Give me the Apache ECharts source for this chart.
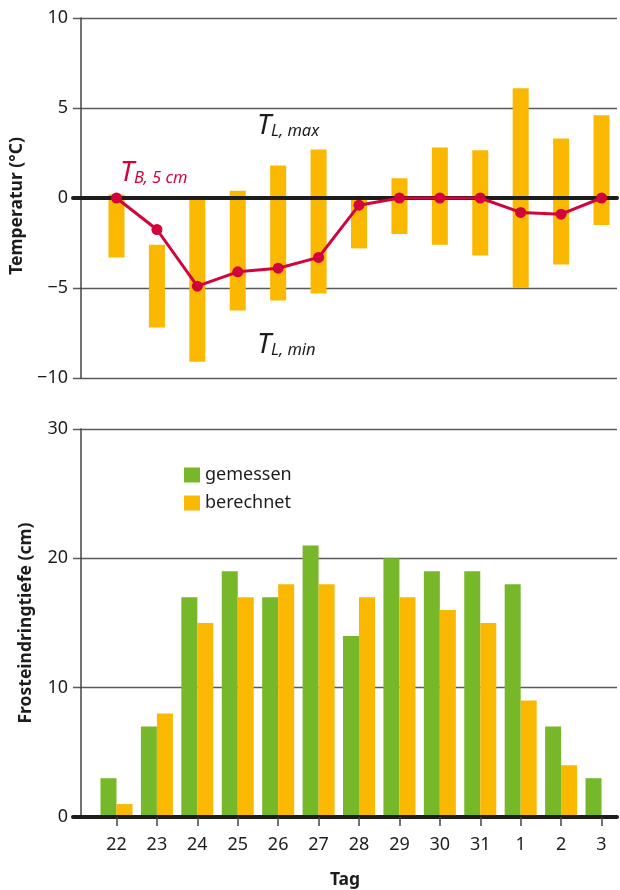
<!DOCTYPE html>
<html>
<head>
<meta charset="utf-8">
<script src="https://cdn.jsdelivr.net/npm/echarts@6/dist/echarts.min.js"></script>
<style>
  html, body { margin: 0; padding: 0; background: #fff; }
  #chart { width: 620px; height: 890px; }
</style>
</head>
<body>
<div id="chart"></div>
<script>
// Day labels along the bottom axis
const days = ['22', '23', '24', '25', '26', '27', '28', '29', '30', '31', '1', '2', '3'];

// Air temperature range per day (°C)
const airMin = [-3.3, -7.2, -9.1, -6.25, -5.7, -5.3, -2.8, -2.0, -2.6, -3.2, -5.0, -3.7, -1.5];
const airMax = [0.2, -2.6, 0.0, 0.4, 1.8, 2.7, 0.0, 1.1, 2.8, 2.65, 6.1, 3.3, 4.6];

// Soil temperature at 5 cm depth (°C)
const soil5cm = [0.0, -1.75, -4.9, -4.1, -3.9, -3.3, -0.4, 0.0, 0.0, 0.0, -0.8, -0.9, 0.0];

// Frost penetration depth (cm)
const measured = [3, 7, 17, 19, 17, 21, 14, 20, 19, 19, 18, 7, 3];
const computed = [1, 8, 15, 17, 18, 18, 17, 17, 16, 15, 9, 4, null];

const tempTicks = [-10, -5, 0, 5, 10];
const depthTicks = [0, 10, 20, 30];

const YELLOW = '#FBB800';
const GREEN = '#77B82A';
const RED = '#D2043C';
const INK = '#1d1d1b';
const GRID = '#5a5a5a';
const FONT = 'Noto Sans';

const idx = days.map((_, i) => i);
const xMin = -1.076, xMax = 12.383;

const chart = echarts.init(document.getElementById('chart'), null, { renderer: 'canvas' });

const minus = v => String(v).replace('-', '\u2212');

const yAxisBase = (min, max, interval, gridIndex, name, namePad) => ({
  type: 'value', gridIndex, min, max, interval,
  offset: -8,
  name, nameLocation: 'middle', nameGap: 46, nameRotate: 90,
  nameTextStyle: { fontFamily: FONT, fontSize: 17.5, fontWeight: 'bold', color: INK, padding: namePad },
  axisLine: { show: true, onZero: false, lineStyle: { color: '#444', width: 1.5 } },
  axisTick: { show: false },
  axisLabel: { fontFamily: FONT, fontSize: 18, color: INK, margin: 13, formatter: minus },
  splitLine: { show: true, lineStyle: { color: GRID, width: 1.3 } }
});

const italicRich = color => ({
  t: { fontFamily: FONT, fontSize: 28, fontStyle: 'italic', fill: color, verticalAlign: 'bottom' },
  s: { fontFamily: FONT, fontSize: 16.5, fontStyle: 'italic', fill: color, verticalAlign: 'bottom' }
});

const option = {
  animation: false,
  grid: [
    { left: 73, right: 3, top: 18, height: 360 },
    { left: 73, right: 3, top: 429, height: 391 }
  ],
  xAxis: [
    {
      type: 'value', gridIndex: 0, min: xMin, max: xMax, z: 3,
      axisLine: { show: true, onZero: true, lineStyle: { color: INK, width: 4 } },
      axisTick: { show: false }, axisLabel: { show: false }, splitLine: { show: false }
    },
    {
      type: 'value', gridIndex: 1, min: xMin, max: xMax, z: 3,
      name: 'Tag', nameLocation: 'middle', nameGap: 54,
      nameTextStyle: { fontFamily: FONT, fontSize: 17.5, fontWeight: 'bold', color: INK },
      axisLine: { show: true, onZero: true, lineStyle: { color: INK, width: 4 } },
      axisTick: { show: true, length: 9, customValues: idx, lineStyle: { color: '#444', width: 1.5 } },
      axisLabel: {
        fontFamily: FONT, fontSize: 18, color: INK, margin: 19,
        customValues: idx, formatter: v => days[Math.round(v)]
      },
      splitLine: { show: false }
    }
  ],
  yAxis: [
    yAxisBase(tempTicks[0], tempTicks[tempTicks.length - 1], 5, 0, 'Temperatur (°C)', [0, 16, 0, 0]),
    yAxisBase(depthTicks[0], depthTicks[depthTicks.length - 1], 10, 1, 'Frosteindringtiefe (cm)', 0)
  ],
  legend: {
    data: ['gemessen', 'berechnet'],
    orient: 'vertical', left: 184, top: 466, padding: 0,
    itemWidth: 16, itemHeight: 15, itemGap: 10, icon: 'rect',
    textStyle: { fontFamily: FONT, fontSize: 18, color: INK }
  },
  series: [
    {
      // daily air temperature range as floating bars
      type: 'custom', xAxisIndex: 0, yAxisIndex: 0, z: 1,
      data: idx.map(i => [i, airMin[i], airMax[i]]),
      encode: { x: 0, y: [1, 2] },
      renderItem: (params, api) => {
        const top = api.coord([api.value(0), api.value(2)]);
        const bottom = api.coord([api.value(0), api.value(1)]);
        return {
          type: 'rect',
          shape: { x: top[0] - 8, y: top[1], width: 16, height: bottom[1] - top[1] },
          style: { fill: YELLOW }
        };
      }
    },
    {
      type: 'line', xAxisIndex: 0, yAxisIndex: 0, z: 5,
      data: idx.map(i => [i, soil5cm[i]]),
      symbol: 'circle', symbolSize: 11,
      lineStyle: { color: RED, width: 3 },
      itemStyle: { color: RED }
    },
    {
      name: 'gemessen', type: 'bar', xAxisIndex: 1, yAxisIndex: 1,
      data: idx.map(i => [i, measured[i]]),
      barWidth: 16, barGap: '0%',
      itemStyle: { color: GREEN }
    },
    {
      name: 'berechnet', type: 'bar', xAxisIndex: 1, yAxisIndex: 1,
      data: idx.map(i => [i, computed[i]]),
      barWidth: 16, barGap: '0%',
      itemStyle: { color: YELLOW }
    }
  ],
  graphic: [
    {
      type: 'text', left: 257, top: 112,
      style: { text: '{t|T}{s|L, max}', rich: italicRich(INK) }
    },
    {
      type: 'text', left: 257, top: 331,
      style: { text: '{t|T}{s|L, min}', rich: italicRich(INK) }
    },
    {
      type: 'text', left: 120, top: 159,
      style: { text: '{t|T}{s|B, 5 cm}', rich: italicRich(RED) }
    }
  ]
};

chart.setOption(option);
</script>
</body>
</html>
